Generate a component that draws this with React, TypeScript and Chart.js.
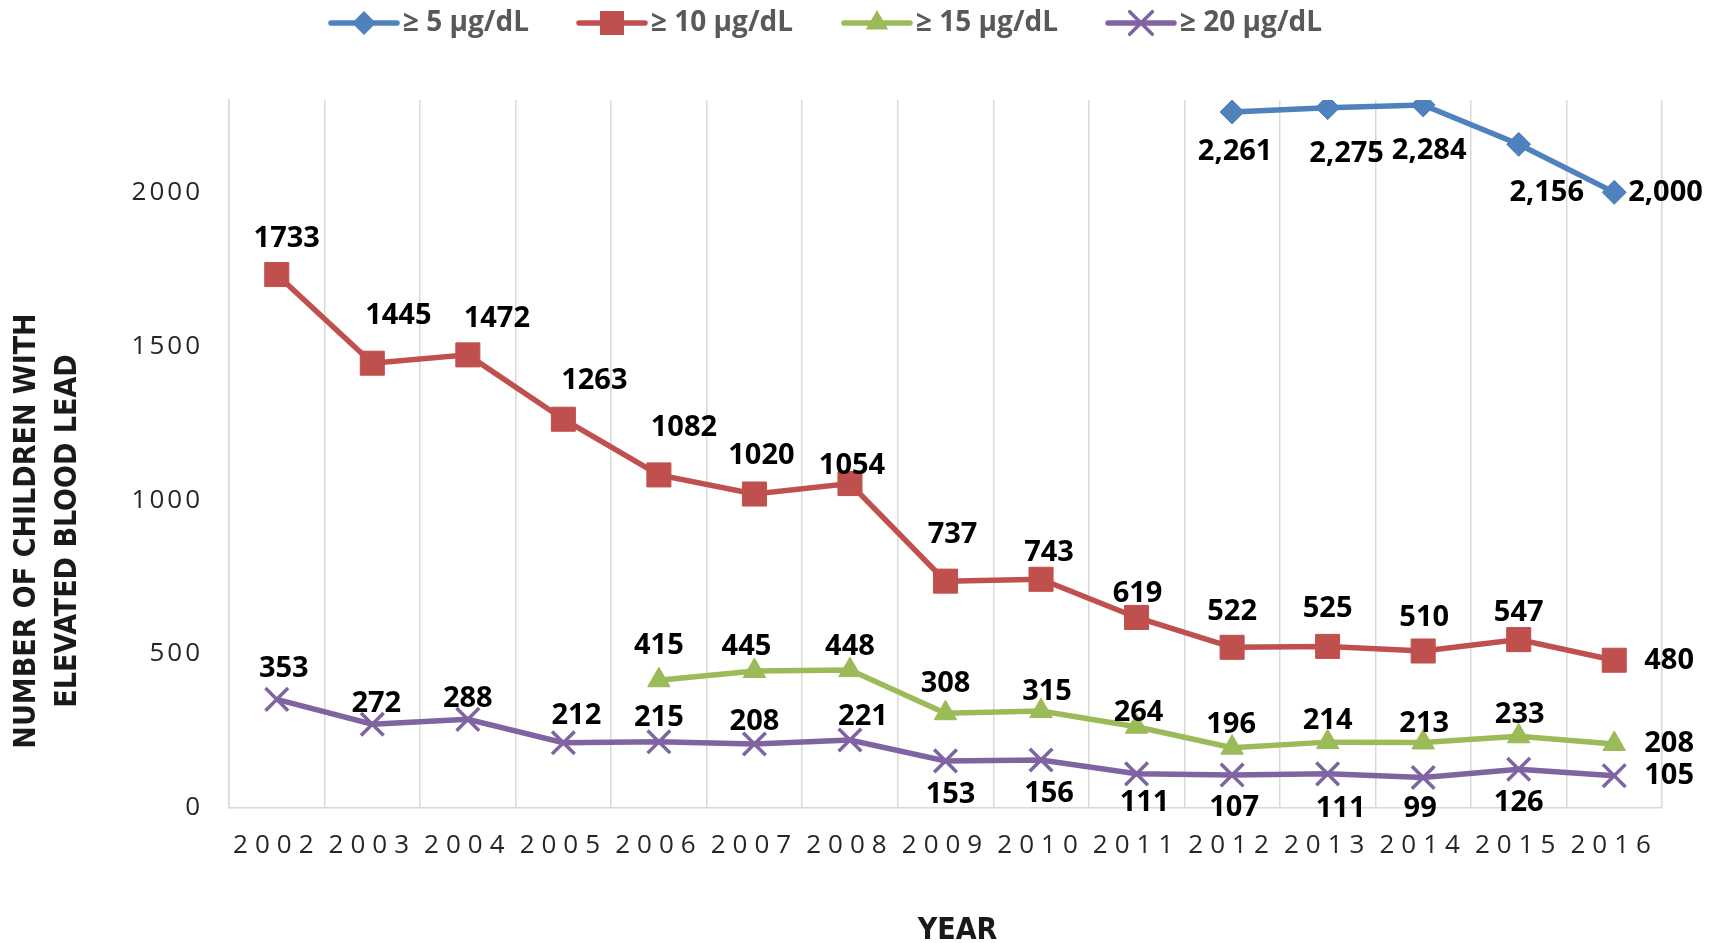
import React, { useEffect, useRef } from 'react';
import { Chart, registerables } from 'chart.js';

Chart.register(...registerables);

// ---------- data ----------
const years = ['2002', '2003', '2004', '2005', '2006', '2007', '2008', '2009', '2010', '2011', '2012', '2013', '2014', '2015', '2016'];
const seriesNames = ['\u2265 5 \u03bcg/dL', '\u2265 10 \u03bcg/dL', '\u2265 15 \u03bcg/dL', '\u2265 20 \u03bcg/dL'];
const ge5: (number | null)[] = [null, null, null, null, null, null, null, null, null, null, 2261, 2275, 2284, 2156, 2000];
const ge10: (number | null)[] = [1733, 1445, 1472, 1263, 1082, 1020, 1054, 737, 743, 619, 522, 525, 510, 547, 480];
const ge15: (number | null)[] = [null, null, null, null, 415, 445, 448, 308, 315, 264, 196, 214, 213, 233, 208];
const ge20: (number | null)[] = [353, 272, 288, 212, 215, 208, 221, 153, 156, 111, 107, 111, 99, 126, 105];
const yTickValues = [0, 500, 1000, 1500, 2000];
const yMin = 0;
const yMax = 2300;
const yTitleLines = ['NUMBER OF CHILDREN WITH', 'ELEVATED BLOOD LEAD'];
const xTitle = 'YEAR';

// ---------- label placement (relative to each point: dx, dy, align) ----------
type Off = [number, number, 'c' | 'l'] | null;
const N: Off = null;
const off5: Off[] = [N, N, N, N, N, N, N, N, N, N, [3, 40, 'c'], [19, 46, 'c'], [6, 46, 'c'], [28, 48, 'c'], [14, 0, 'l']];
const off10: Off[] = [[10, -36, 'c'], [26, -47, 'c'], [29, -36, 'c'], [31, -38, 'c'], [25, -47, 'c'], [7, -38, 'c'], [2, -18, 'c'], [7, -46, 'c'], [8, -27, 'c'], [1, -24, 'c'], [0, -36, 'c'], [0, -38, 'c'], [1, -33, 'c'], [0, -27, 'c'], [30, 0, 'l']];
const off15: Off[] = [N, N, N, N, [0, -35, 'c'], [-8, -24, 'c'], [0, -23, 'c'], [0, -29, 'c'], [6, -19, 'c'], [2, -14, 'c'], [-1, -23, 'c'], [0, -21, 'c'], [1, -19, 'c'], [1, -22, 'c'], [30, 0, 'l']];
const off20: Off[] = [[7, -31, 'c'], [4, -21, 'c'], [0, -21, 'c'], [13, -27, 'c'], [0, -24, 'c'], [0, -22, 'c'], [13, -23, 'c'], [5, 34, 'c'], [8, 34, 'c'], [8, 29, 'c'], [2, 33, 'c'], [13, 35, 'c'], [-3, 31, 'c'], [0, 34, 'c'], [30, 0, 'l']];
const labelOffsets = [off5, off10, off15, off20];

const colors = ['#4F81BD', '#C0504D', '#9BBB59', '#8064A2'];
const markers = ['rectRot', 'rect', 'triangle', 'crossRot'];
const markerRadius = [12, 17, 13, 16];

const LABEL_FONT = 'bold 29px "Open Sans", "DejaVu Sans", sans-serif';
const TITLE_FONT = 'bold 30px "Liberation Sans Narrow", "DejaVu Sans Condensed", "Open Sans", sans-serif';
const LEGEND_FONT = 'bold 28px "Open Sans", "DejaVu Sans", sans-serif';

function drawMarker(ctx: CanvasRenderingContext2D, kind: string, x: number, y: number, r: number, color: string) {
  ctx.save();
  ctx.fillStyle = color;
  ctx.strokeStyle = color;
  ctx.beginPath();
  if (kind === 'rectRot') {
    ctx.moveTo(x, y - r);
    ctx.lineTo(x + r, y);
    ctx.lineTo(x, y + r);
    ctx.lineTo(x - r, y);
    ctx.closePath();
    ctx.fill();
  } else if (kind === 'rect') {
    const s = r * Math.SQRT1_2;
    ctx.rect(x - s, y - s, 2 * s, 2 * s);
    ctx.fill();
  } else if (kind === 'triangle') {
    const w = r * Math.sin(Math.PI / 3);
    ctx.moveTo(x, y - r);
    ctx.lineTo(x + w, y + r / 2);
    ctx.lineTo(x - w, y + r / 2);
    ctx.closePath();
    ctx.fill();
  } else {
    const s = r * Math.SQRT1_2;
    ctx.lineWidth = 3.5;
    ctx.moveTo(x - s, y - s);
    ctx.lineTo(x + s, y + s);
    ctx.moveTo(x + s, y - s);
    ctx.lineTo(x - s, y + s);
    ctx.stroke();
  }
  ctx.restore();
}

const spacingPlugin = {
  id: 'tickSpacing',
  beforeDraw(chart: any) {
    chart.ctx.letterSpacing = '3px';
  },
  beforeDatasetsDraw(chart: any) {
    chart.ctx.letterSpacing = '7px';
  },
};

const valueLabelPlugin = {
  id: 'valueLabels',
  afterDatasetsDraw(chart: any) {
    const ctx: CanvasRenderingContext2D = chart.ctx;
    ctx.save();
    (ctx as any).letterSpacing = '0px';
    ctx.font = LABEL_FONT;
    ctx.fillStyle = '#000000';
    ctx.textBaseline = 'middle';
    chart.data.datasets.forEach((ds: any, di: number) => {
      const meta = chart.getDatasetMeta(di);
      meta.data.forEach((pt: any, i: number) => {
        const v = ds.data[i];
        const o = labelOffsets[di][i];
        if (v == null || !o) return;
        ctx.textAlign = o[2] === 'l' ? 'left' : 'center';
        const text = di === 0 ? Number(v).toLocaleString('en-US') : String(v);
        ctx.fillText(text, pt.x + o[0], pt.y + o[1]);
      });
    });
    ctx.restore();
  },
};

const legendStarts = [331, 579, 844, 1108];

const decorPlugin = {
  id: 'decor',
  afterDraw(chart: any) {
    const ctx: CanvasRenderingContext2D = chart.ctx;
    ctx.save();
    (ctx as any).letterSpacing = '0px';
    // legend
    const ly = 23;
    chart.data.datasets.forEach((ds: any, di: number) => {
      const x0 = legendStarts[di];
      ctx.strokeStyle = ds.borderColor;
      ctx.lineWidth = 5.5;
      ctx.lineCap = 'round';
      ctx.beginPath();
      ctx.moveTo(x0, ly);
      ctx.lineTo(x0 + 66, ly);
      ctx.stroke();
      drawMarker(ctx, markers[di], x0 + 33, ly, markerRadius[di], ds.borderColor);
      ctx.font = LEGEND_FONT;
      ctx.fillStyle = '#595959';
      ctx.textAlign = 'left';
      ctx.textBaseline = 'middle';
      ctx.fillText(ds.label, x0 + 72, ly);
    });
    // axis titles
    ctx.font = TITLE_FONT;
    ctx.fillStyle = '#1a1a1a';
    ctx.textAlign = 'center';
    ctx.textBaseline = 'middle';
    ctx.save();
    ctx.translate(27, 531);
    ctx.rotate(-Math.PI / 2);
    yTitleLines.forEach((line, i) => ctx.fillText(line, 0, i * 41));
    ctx.restore();
    const area = chart.chartArea;
    ctx.fillText(xTitle, (area.left + area.right) / 2 + 12, 931);
    ctx.restore();
  },
};

export default function App() {
  const ref = useRef<HTMLCanvasElement | null>(null);

  useEffect(() => {
    if (!ref.current) return;
    const series = [ge5, ge10, ge15, ge20];
    const chart = new Chart(ref.current, {
      type: 'line',
      data: {
        labels: years,
        datasets: series.map((d, i) => ({
          label: seriesNames[i],
          data: d,
          borderColor: colors[i],
          backgroundColor: colors[i],
          borderWidth: 5.5,
          tension: 0,
          spanGaps: false,
          pointStyle: markers[i] as any,
          pointRadius: markerRadius[i],
          pointBorderWidth: i === 3 ? 3.5 : 1,
          pointBackgroundColor: colors[i],
          pointBorderColor: colors[i],
          fill: false,
        })),
      },
      options: {
        responsive: false,
        animation: false,
        events: [],
        layout: { padding: { left: 0, right: 50, top: 100, bottom: 0 } },
        plugins: {
          legend: { display: false },
          tooltip: { enabled: false },
          title: { display: false },
        },
        scales: {
          x: {
            type: 'category',
            offset: true,
            grid: { display: true, offset: true, color: '#d9d9d9', lineWidth: 1.5, drawTicks: false },
            border: { display: true, color: '#d9d9d9', width: 1.5 },
            ticks: {
              z: 1,
              padding: 22,
              color: '#262626',
              font: { family: '"Open Sans"', size: 26 },
              maxRotation: 0,
              autoSkip: false,
            },
            afterFit: (s: any) => { s.height = 135; },
          },
          y: {
            min: yMin,
            max: yMax,
            grid: { display: false, drawTicks: false },
            border: { display: true, color: '#d9d9d9', width: 1.5 },
            ticks: {
              stepSize: 500,
              includeBounds: false,
              padding: 26,
              color: '#262626',
              font: { family: '"Open Sans"', size: 26 },
              callback: (v: any) => String(v),
            },
            afterBuildTicks: (s: any) => { s.ticks = yTickValues.map((v) => ({ value: v })); },
            afterFit: (s: any) => { s.width = 229; },
          },
        },
      },
      plugins: [spacingPlugin, valueLabelPlugin, decorPlugin],
    });
    return () => chart.destroy();
  }, []);

  return (
    <div style={{ position: 'absolute', left: 0, top: 0, width: 1712, height: 943, background: '#ffffff' }}>
      <canvas ref={ref} width={1712} height={943} style={{ width: 1712, height: 943, display: 'block' }} />
    </div>
  );
}
